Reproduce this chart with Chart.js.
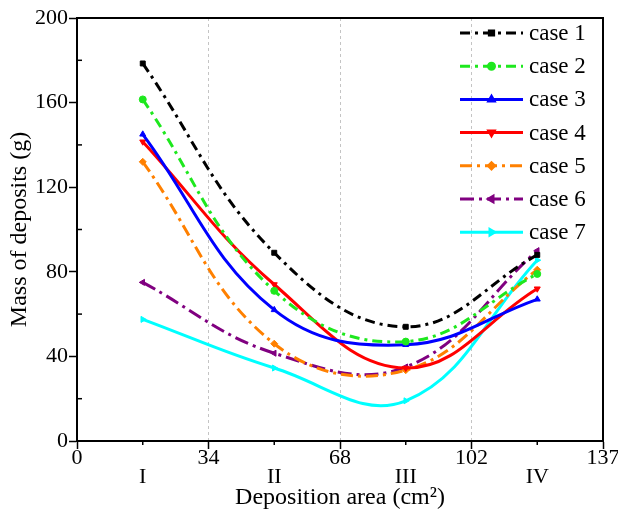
<!DOCTYPE html>
<html>
<head>
<meta charset="utf-8">
<script src="https://cdn.jsdelivr.net/npm/chart.js@4/dist/chart.umd.min.js"></script>
<style>
  html, body { margin: 0; padding: 0; background: #fff; }
  #wrap { width: 618px; height: 520px; position: relative; }
</style>
</head>
<body>
<div id="wrap"><canvas id="chart"></canvas></div>
<script>
// region centres on the x axis and their names
const regionX = [17, 51, 85, 119];
const regionLabels = ['I', 'II', 'III', 'IV'];
const areaTicks = [0, 34, 68, 102, 136];
const areaTickLabels = ['0', '34', '68', '102', '137'];

const caseNames = ['case 1', 'case 2', 'case 3', 'case 4', 'case 5', 'case 6', 'case 7'];
const case1 = [178.5, 89, 54, 88];
const case2 = [161.5, 71, 47, 79];
const case3 = [145, 62, 45.5, 67];
const case4 = [141.5, 74, 34.5, 72];
const case5 = [132, 46, 33.5, 81];
const case6 = [75, 41.5, 35, 90];
const case7 = [57.5, 34.5, 19, 85.5];

const serif = '"Liberation Serif", "Times New Roman", serif';

const styles = [
    { color: '#000000', dash: [10, 5, 3, 5], point: 'rect', rot: 0 },
    { color: '#1ee81e', dash: [10, 5, 3, 5], point: 'circle', rot: 0 },
    { color: '#0000ff', dash: [], point: 'triangle', rot: 0 },
    { color: '#ff0000', dash: [], point: 'triangle', rot: 180 },
    { color: '#ff8000', dash: [12, 5, 3, 5], point: 'rectRot', rot: 0 },
    { color: '#800080', dash: [14, 5, 3, 5], point: 'triangle', rot: 270 },
    { color: '#00ffff', dash: [], point: 'triangle', rot: 90 }
];
const series = [case1, case2, case3, case4, case5, case6, case7];

const datasets = series.map((vals, i) => ({
    label: caseNames[i],
    data: regionX.map((x, j) => ({ x: x, y: vals[j] })),
    borderColor: styles[i].color,
    backgroundColor: styles[i].color,
    borderWidth: 3,
    borderDash: styles[i].dash,
    tension: 0.4,
    pointStyle: styles[i].point,
    pointRotation: styles[i].rot,
    pointRadius: 3.5,
    pointBorderWidth: 1,
    fill: false
}));

// frame, minor ticks and inner legend
const extras = {
    id: 'extras',
    afterDatasetsDraw(chart) {
        const ctx = chart.ctx;
        const a = chart.chartArea;
        const xs = chart.scales.x, ys = chart.scales.y;
        ctx.save();
        ctx.strokeStyle = '#000';
        ctx.lineWidth = 2;
        ctx.setLineDash([]);
        ctx.beginPath();
        ctx.moveTo(a.left, a.top);
        ctx.lineTo(a.right, a.top);
        ctx.lineTo(a.right, a.bottom);
        ctx.stroke();

        ctx.lineWidth = 1.5;
        for (let v = 20; v < 200; v += 40) {
            const y = ys.getPixelForValue(v);
            ctx.beginPath();
            ctx.moveTo(a.left, y);
            ctx.lineTo(a.left + 5, y);
            ctx.stroke();
        }
        regionX.forEach(v => {
            const x = xs.getPixelForValue(v);
            ctx.beginPath();
            ctx.moveTo(x, a.bottom);
            ctx.lineTo(x, a.bottom + 4);
            ctx.stroke();
        });

        // legend
        const x0 = 460, x1 = 523, top = 33, step = 33.2;
        ctx.font = '23px ' + serif;
        ctx.textBaseline = 'middle';
        ctx.textAlign = 'left';
        chart.data.datasets.forEach((ds, i) => {
            const y = top + i * step;
            ctx.strokeStyle = ds.borderColor;
            ctx.lineWidth = 3;
            ctx.setLineDash(ds.borderDash);
            ctx.beginPath();
            ctx.moveTo(x0, y);
            ctx.lineTo(x1, y);
            ctx.stroke();
            ctx.setLineDash([]);
            ctx.fillStyle = ds.borderColor;
            Chart.helpers.drawPoint(ctx, {
                pointStyle: ds.pointStyle,
                rotation: ds.pointRotation,
                radius: 3,
                borderWidth: 1
            }, (x0 + x1) / 2, y);
            ctx.fillStyle = '#000';
            ctx.fillText(ds.label, 529, y + 1);
        });
        ctx.restore();
    }
};

new Chart(document.getElementById('chart'), {
    type: 'line',
    data: { datasets: datasets },
    plugins: [extras],
    options: {
        responsive: true,
        maintainAspectRatio: false,
        animation: false,
        layout: { padding: { top: 18, right: 15, left: 0, bottom: 0 } },
        plugins: { legend: { display: false }, tooltip: { enabled: false } },
        scales: {
            x: {
                type: 'linear',
                min: 0,
                max: 136,
                afterBuildTicks: s => {
                    const t = [];
                    for (let v = 0; v <= 136; v += 17) t.push({ value: v });
                    s.ticks = t;
                },
                afterFit: s => { s.height = 79; s.paddingLeft = 0; s.paddingRight = 0; },
                ticks: {
                    autoSkip: false,
                    maxRotation: 0,
                    padding: 0,
                    color: '#000',
                    font: { family: serif, size: 22, lineHeight: 0.87 },
                    callback: v => {
                        const k = areaTicks.indexOf(v);
                        if (k >= 0) return areaTickLabels[k];
                        const r = regionX.indexOf(v);
                        return r >= 0 ? ['', regionLabels[r]] : '';
                    }
                },
                grid: {
                    drawOnChartArea: true,
                    tickLength: 8,
                    tickWidth: 1.5,
                    lineWidth: 1,
                    color: c => ([34, 68, 102].includes(c.tick && c.tick.value) ? '#c4c4c4' : 'rgba(0,0,0,0)'),
                    tickColor: c => (areaTicks.includes(c.tick && c.tick.value) ? '#000' : 'rgba(0,0,0,0)')
                },
                border: { display: true, color: '#000', width: 2, dash: [3, 3] },
                title: {
                    display: true,
                    text: 'Deposition area (cm²)',
                    color: '#000',
                    font: { family: serif, size: 24 },
                    padding: { top: 0, bottom: 8 }
                }
            },
            y: {
                min: 0,
                max: 200,
                afterFit: s => { s.width = 77; },
                ticks: {
                    stepSize: 20,
                    padding: 1,
                    color: '#000',
                    font: { family: serif, size: 22 },
                    callback: v => (v % 40 === 0 ? String(v) : '')
                },
                grid: {
                    drawOnChartArea: false,
                    tickLength: 8,
                    tickWidth: 1.5,
                    tickColor: c => (c.tick && c.tick.value % 40 === 0 ? '#000' : 'rgba(0,0,0,0)')
                },
                border: { display: true, color: '#000', width: 2 },
                title: {
                    display: true,
                    text: 'Mass of deposits (g)',
                    color: '#000',
                    font: { family: serif, size: 24 },
                    padding: { top: 5, bottom: 0 }
                }
            }
        }
    }
});
</script>
</body>
</html>
